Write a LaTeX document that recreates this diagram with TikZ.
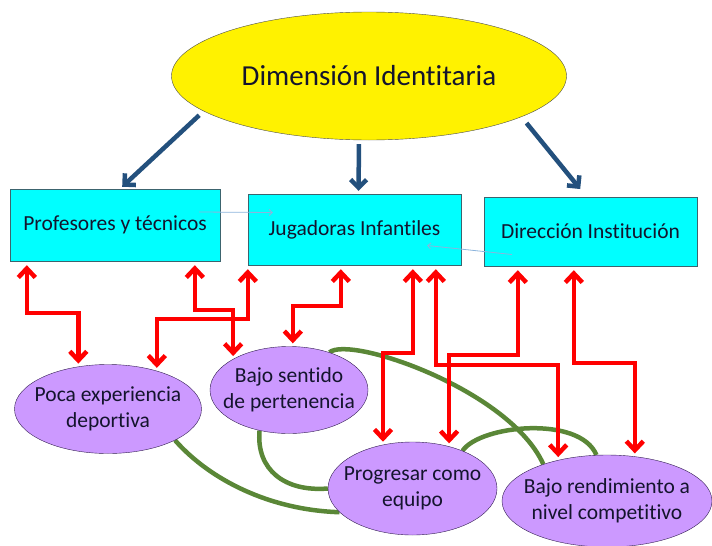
\documentclass[tikz,border=0pt]{standalone}
\usepackage{fontspec}
\setmainfont{Carlito}[Ligatures = NoCommon]
\usetikzlibrary{arrows.meta}
\usetikzlibrary{shapes.geometric}
\usetikzlibrary{calc}

\definecolor{boxcyan}{RGB}{0,255,255}
\definecolor{boxline}{RGB}{60,100,110}
\definecolor{lilac}{RGB}{204,153,255}
\definecolor{lilacline}{RGB}{50,30,80}
\definecolor{leadblue}{RGB}{35,80,125}
\definecolor{hintblue}{RGB}{140,180,220}
\definecolor{tiegreen}{RGB}{90,135,55}
\definecolor{inkdark}{RGB}{20,20,45}

\pgfdeclarelayer{back}
\pgfsetlayers{back,main}

\newcommand{\goaltext}[1]{\makebox[0pt]{\begin{tabular}{@{}c@{}}#1\end{tabular}}}

\begin{document}
\begin{tikzpicture}[x = 1pt, y = -1pt,
  box/.style = {draw = boxline, fill = boxcyan, inner sep = 0,
    text = inkdark, font = \fontsize{21.5}{26}\selectfont},
  goal/.style = {ellipse, draw = lilacline, fill = lilac, inner sep = 0,
    text = inkdark, font = \fontsize{21.5}{26}\selectfont},
  link/.style = {draw = red, line width = 4.5pt, line join = miter,
    {Straight Barb[length = 9pt, width = 17pt]}-{Straight Barb[length = 9pt, width = 17pt]},
    shorten < = 4pt, shorten > = 3pt},
  lead/.style = {draw = leadblue, line width = 4.5pt,
    -{Straight Barb[length = 8pt, width = 16pt]}, shorten < = 4pt, shorten > = 3pt},
  hint/.style = {draw = hintblue, line width = .8pt,
    -{Straight Barb[length = 3pt, width = 6pt]}},
  tie/.style = {draw = tiegreen, line width = 4.5pt}
  ]
  \useasboundingbox (0, 0) rectangle (712, 546);

  \node[ellipse, draw = black!70, fill = yellow, minimum width = 395pt,
    minimum height = 128pt, inner sep = 0, text = inkdark,
    font = \fontsize{29}{34}\selectfont] (dim) at (369, 76)
  {\makebox[0pt]{Dimensión Identitaria}};

  \node[box, minimum width = 210pt, minimum height = 72pt] (prof) at (115, 225)
  {Profesores y técnicos};
  \node[box, minimum width = 213pt, minimum height = 71pt] (jug) at (354.5, 229.5)
  {Jugadoras Infantiles};
  \node[box, minimum width = 213pt, minimum height = 69pt] (dir) at (590.5, 231.5)
  {Dirección Institución};

  \node[goal, minimum width = 187pt, minimum height = 89pt] (poca) at (108, 409)
  {\goaltext{Poca experiencia\\deportiva}};
  \node[goal, minimum width = 158pt, minimum height = 87pt] (sent) at (289, 390)
  {\goaltext{Bajo sentido\\de pertenencia}};
  \node[goal, minimum width = 169pt, minimum height = 93pt] (prog) at (412.5, 488.5)
  {\goaltext{Progresar como\\equipo}};
  \node[goal, minimum width = 210pt, minimum height = 92pt] (rend) at (607, 501)
  {\goaltext{Bajo rendimiento a\\nivel competitivo}};

  \begin{pgfonlayer}{back}
    \draw[tie] (poca.335) .. controls (210, 480) and (270, 510) .. (prog.198);
    \draw[tie] (sent.234) .. controls (256, 470) and (285, 492) .. (prog.west);
    \draw[tie] (sent.43) .. controls (350, 335) and (510, 390) .. (rend.150);
    \draw[tie] (prog.37) .. controls (480, 425) and (580, 415) .. (rend.103);
  \end{pgfonlayer}

  \draw[lead, shorten < = 6pt] (dim.192) -- ([xshift = 5pt]prof.north);
  \draw[lead] ([xshift = -10pt]dim.south) -- ([xshift = 4pt]jug.north);
  \draw[lead, shorten < = 8pt, shorten > = 10pt] (dim.345) --
  ([xshift = -4pt]dir.north);

  \draw[hint] ($(prof.east) + (-21, -13)$) -- ($(jug.west) + (25, -17)$);
  \draw[hint] ($(dir.west) + (28, 23)$) -- ($(jug.east) + (-34, 16)$);

  \draw[link] ([xshift = 17pt]prof.south west) -- ++(0, 52) -| (poca.125);
  \draw[link] ([xshift = 185pt]prof.south west) -- ++(0, 49) -| (sent.151);
  \draw[link] (jug.south west) -- ++(0, 54) -| (poca.38);
  \draw[link] ([xshift = 93pt]jug.south west) -- ++(0, 41) -| (sent.85);
  \draw[link] ([xshift = 165pt]jug.south west) -- ++(0, 88) -| (prog.124);
  \draw[link] ([xshift = 188pt]jug.south west) -- ++(0, 100) -| (rend.140);
  \draw[link] ([xshift = 34pt]dir.south west) -- ++(0, 89) -| (prog.49);
  \draw[link] ([xshift = 90pt]dir.south west) -- ++(0, 97) -| (rend.58);
\end{tikzpicture}
\end{document}
